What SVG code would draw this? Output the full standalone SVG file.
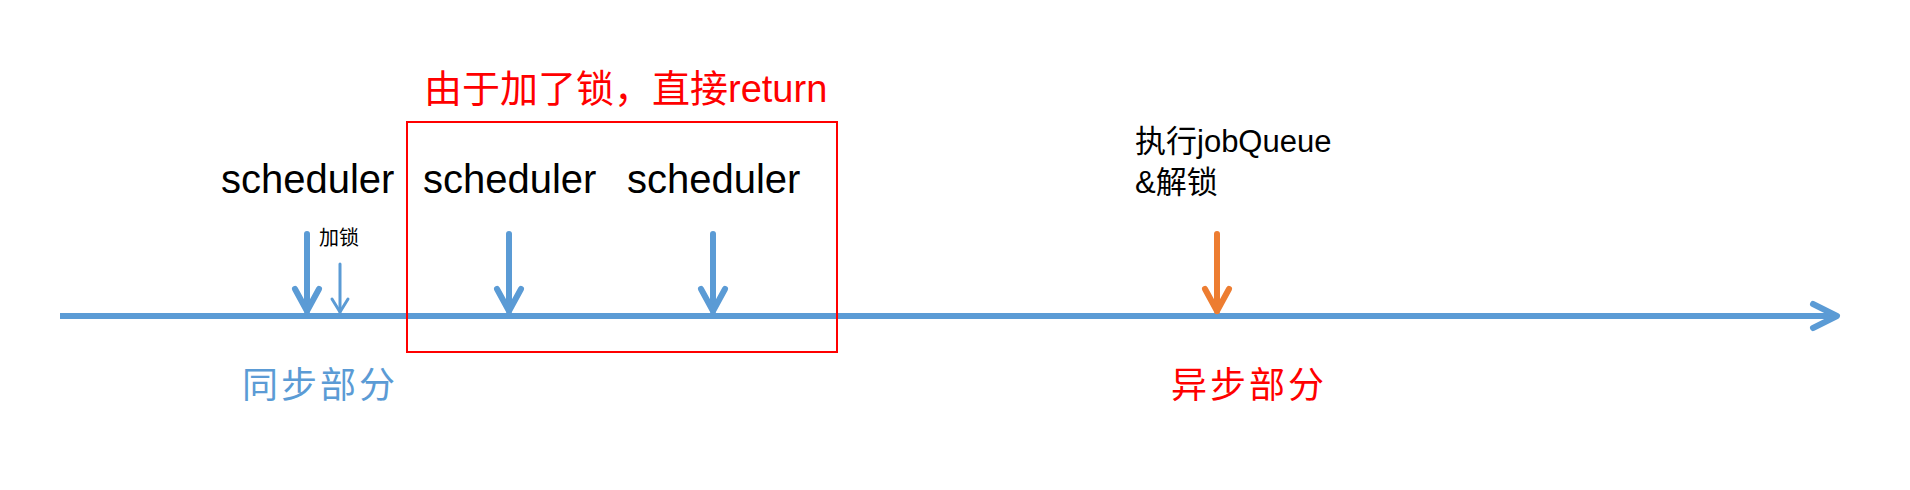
<svg xmlns="http://www.w3.org/2000/svg" width="1910" height="490" viewBox="0 0 1910 490">
<style>
text{font-family:"Liberation Sans","Noto Sans CJK SC",sans-serif;}
.sch{font-size:40px;fill:#000;}
.blue{stroke:#5B9BD5;fill:none;stroke-linecap:round;stroke-linejoin:round;}
.orange{stroke:#ED7D31;fill:none;stroke-linecap:round;stroke-linejoin:round;}
</style>
<rect width="1910" height="490" fill="#fff"/>
<g id="connectors">
  <g id="timeline">
    <line x1="60" y1="316" x2="1834" y2="316" stroke="#5B9BD5" stroke-width="6"/>
    <polyline class="blue" points="1813,304 1837,316 1813,328" stroke-width="6"/>
  </g>
  <g id="arrow1">
    <line class="blue" x1="307" y1="234" x2="307" y2="311" stroke-width="6" stroke-linecap="butt"/>
    <polyline class="blue" points="295,289 307,311 319,289" stroke-width="6"/>
  </g>
  <g id="arrow-lock">
    <line class="blue" x1="340" y1="264" x2="340" y2="312" stroke-width="3" stroke-linecap="butt"/>
    <polyline class="blue" points="332,299 340,312 348,299" stroke-width="3"/>
  </g>
  <g id="arrow2">
    <line class="blue" x1="509" y1="234" x2="509" y2="311" stroke-width="6" stroke-linecap="butt"/>
    <polyline class="blue" points="497,289 509,311 521,289" stroke-width="6"/>
  </g>
  <g id="arrow3">
    <line class="blue" x1="713" y1="234" x2="713" y2="311" stroke-width="6" stroke-linecap="butt"/>
    <polyline class="blue" points="701,289 713,311 725,289" stroke-width="6"/>
  </g>
  <g id="arrow-async">
    <line class="orange" x1="1217" y1="234" x2="1217" y2="311" stroke-width="6" stroke-linecap="butt"/>
    <polyline class="orange" points="1205,289 1217,311 1229,289" stroke-width="6"/>
  </g>
</g>
<g id="lock-box">
  <rect x="407" y="122" width="430" height="230" fill="none" stroke="#FF0000" stroke-width="2"/>
  <text x="424" y="102" font-size="38" fill="#FF0000">由于加了锁，直接return</text>
</g>
<g id="node-scheduler1"><text class="sch" x="221" y="193">scheduler</text></g>
<g id="node-scheduler2"><text class="sch" x="423" y="193">scheduler</text></g>
<g id="node-scheduler3"><text class="sch" x="627" y="193">scheduler</text></g>
<g id="label-lock"><text x="319" y="245" font-size="20" fill="#000">加锁</text></g>
<g id="node-job">
  <text x="1135" y="152" font-size="31" fill="#000">执行jobQueue</text>
  <text x="1135" y="193" font-size="31" fill="#000">&amp;解锁</text>
</g>
<g id="label-sync"><text x="242" y="398" font-size="36" fill="#5B9BD5" letter-spacing="3">同步部分</text></g>
<g id="label-async"><text x="1171" y="398" font-size="36" fill="#FF0000" letter-spacing="3">异步部分</text></g>
</svg>
